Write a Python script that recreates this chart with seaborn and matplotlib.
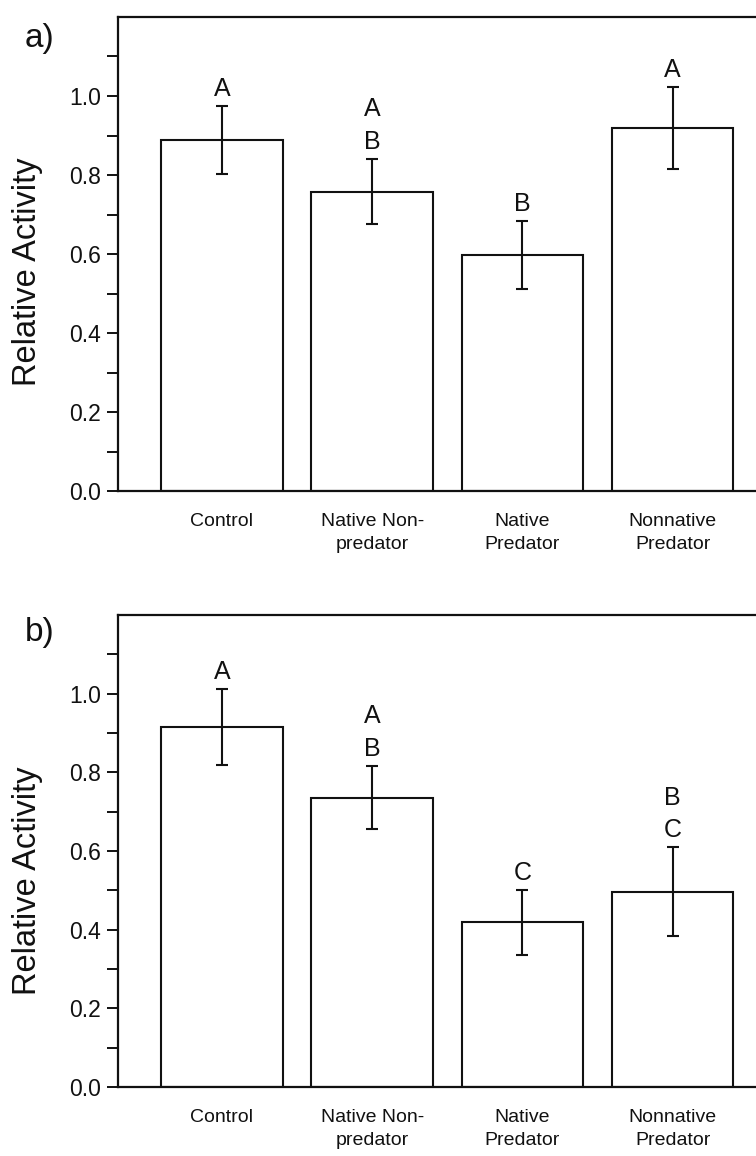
import numpy as np
import pandas as pd
import matplotlib
matplotlib.use("Agg")
import matplotlib.pyplot as plt
import seaborn as sns
from matplotlib.ticker import FixedLocator

sns.set_style("white")
plt.rcParams['font.family'] = ['Liberation Sans', 'DejaVu Sans']

categories = ["Control", "Native Non-\npredator", "Native\nPredator", "Nonnative\nPredator"]

activity_a = [0.889, 0.758, 0.597, 0.919]
sem_a = [0.086, 0.083, 0.086, 0.104]
letters_a = ["A", "A\nB", "B", "A"]

activity_b = [0.916, 0.736, 0.419, 0.497]
sem_b = [0.097, 0.081, 0.083, 0.113]
letters_b = ["A", "A\nB", "C", "B\nC"]

panel_labels = ["a)", "b)"]
yticks = [0.0, 0.2, 0.4, 0.6, 0.8, 1.0]
yticklabels = ["0.0", "0.2", "0.4", "0.6", "0.8", "1.0"]
yminor = [0.1, 0.3, 0.5, 0.7, 0.9, 1.1]

W, H = 756, 1156
fig = plt.figure(figsize=(W / 100, H / 100), dpi=100)

ink = "#111111"
left = 118 / W
panels = [
    # values, errors, letters, top px, bottom px, ylabel y, panel label y
    (activity_a, sem_a, letters_a, 17, 491, 0.462, 0.954),
    (activity_b, sem_b, letters_b, 615, 1087, 0.436, 0.962),
]

for (vals, errs, letters, top_px, bot_px, ylab_y, plab_y), plabel in zip(panels, panel_labels):
    ax = fig.add_axes([left, 1 - bot_px / H, 1 - left, (bot_px - top_px) / H])
    df = pd.DataFrame({"group": categories, "activity": vals})
    sns.barplot(data=df, x="group", y="activity", ax=ax, color="white",
                edgecolor=ink, linewidth=1.5, width=0.81, errorbar=None,
                saturation=1)
    xs = np.arange(len(categories))
    ax.errorbar(xs, vals, yerr=errs, fmt="none", ecolor=ink, elinewidth=1.5,
                capsize=4.3, capthick=1.5, zorder=5)
    for x, v, e, t in zip(xs, vals, errs, letters):
        ax.annotate(t, (x, v + e), xytext=(0, 3.5), textcoords="offset points",
                    ha="center", va="bottom", fontsize=18, color=ink,
                    linespacing=1.45)
    ax.set_xlim(-0.692, 3.555)
    ax.set_ylim(0, 1.2)
    ax.yaxis.set_major_locator(FixedLocator(yticks))
    ax.yaxis.set_minor_locator(FixedLocator(yminor))
    ax.set_yticklabels(yticklabels)
    ax.tick_params(axis="y", which="both", direction="out", length=8,
                   width=1.4, color=ink, labelsize=16.5, labelcolor=ink, pad=4.5,
                   left=True)
    ax.tick_params(axis="x", length=0, labelsize=14, labelcolor=ink, pad=16)
    for lab in ax.get_xticklabels():
        lab.set_linespacing(1.45)
    for s in ["left", "bottom", "top"]:
        ax.spines[s].set_visible(True)
        ax.spines[s].set_color(ink)
        ax.spines[s].set_linewidth(1.6)
    ax.spines["right"].set_visible(False)
    ax.set_xlabel("")
    ax.set_ylabel("Relative Activity", fontsize=23.5, color=ink)
    ax.yaxis.set_label_coords(-0.1176, ylab_y)
    ax.text(-0.146, plab_y, plabel, transform=ax.transAxes, fontsize=24,
            color=ink, ha="left", va="center")

fig.savefig("out.png", dpi=100, facecolor="white")
